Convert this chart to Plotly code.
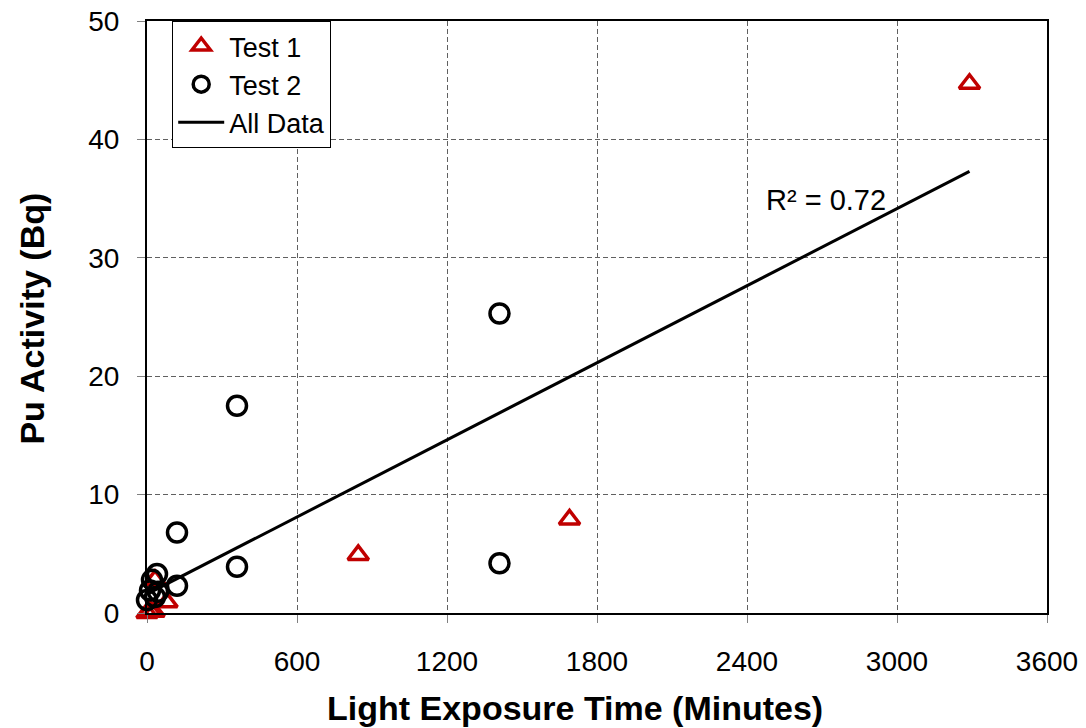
import plotly.graph_objects as go

# Data
test1_x = [0, 12, 28, 32, 80, 845, 1690, 3290]
test1_y = [0.0, 0.2, 0.1, 2.8, 0.9, 4.9, 7.9, 44.7]
test2_x = [0, 12, 20, 32, 40, 44, 120, 120, 360, 360, 1410, 1410]
test2_y = [1.1, 1.9, 2.8, 1.35, 3.3, 1.8, 6.8, 2.3, 17.5, 3.9, 25.3, 4.2]
trend_x = [0, 3290]
trend_y = [1.6, 37.3]
x_ticks = [0, 600, 1200, 1800, 2400, 3000, 3600]
y_ticks = [0, 10, 20, 30, 40, 50]
r2_label = "R² = 0.72"

FONT = "Liberation Sans, Arial, sans-serif"
RED = "#C00000"
GRID = "#606060"

fig = go.Figure()
fig.add_trace(go.Scatter(
    x=test1_x, y=test1_y, mode="markers", name="Test 1",
    marker=dict(symbol="triangle-up-open", size=18, color=RED,
                line=dict(color=RED, width=3.5)),
    cliponaxis=False,
))
fig.add_trace(go.Scatter(
    x=test2_x, y=test2_y, mode="markers", name="Test 2",
    marker=dict(symbol="circle-open", size=19, color="black",
                line=dict(color="black", width=3.5)),
    cliponaxis=False,
))
fig.add_trace(go.Scatter(
    x=trend_x, y=trend_y, mode="lines", name="All Data",
    line=dict(color="black", width=3),
))

fig.add_annotation(x=3290, y=34.9, xref="x", yref="y", text=r2_label,
                   showarrow=False, xanchor="right", yanchor="middle",
                   xshift=-82, font=dict(family=FONT, size=29, color="black"))

fig.add_annotation(x=0.4756, y=-0.161, xref="paper", yref="paper",
                   text="<b>Light Exposure Time (Minutes)</b>", showarrow=False,
                   xanchor="center", yanchor="middle",
                   font=dict(family=FONT, size=34, color="black"))
fig.add_annotation(x=-0.128, y=0.497, xref="paper", yref="paper",
                   text="<b>Pu Activity (Bq)</b>", showarrow=False, textangle=-90,
                   xanchor="center", yanchor="middle",
                   font=dict(family=FONT, size=34, color="black"))

fig.update_xaxes(range=[0, 3600], tickvals=x_ticks, ticktext=[str(v) for v in x_ticks],
                 showgrid=True, gridcolor=GRID, griddash="5px,3px", gridwidth=1,
                 showline=True, linecolor="black", linewidth=2, mirror=True,
                 ticks="outside", ticklen=8, tickcolor="#808080",
                 zeroline=False, ticklabelstandoff=14, automargin=False,
                 tickfont=dict(family=FONT, size=28, color="black"))
fig.update_yaxes(range=[0, 50], tickvals=y_ticks,
                 showgrid=True, gridcolor=GRID, griddash="5px,3px", gridwidth=1,
                 showline=True, linecolor="black", linewidth=2, mirror=True,
                 ticks="outside", ticklen=8, tickcolor="#808080",
                 zeroline=False, ticklabelstandoff=12, automargin=False,
                 tickfont=dict(family=FONT, size=28, color="black"))

fig.update_layout(
    width=1086, height=728,
    margin=dict(l=147, r=39, t=21, b=115, autoexpand=False),
    paper_bgcolor="white", plot_bgcolor="white",
    font=dict(family=FONT, size=28, color="black"),
    showlegend=True,
    legend=dict(x=0.028, y=1.0, xanchor="left", yanchor="top",
                bgcolor="white", bordercolor="black", borderwidth=1,
                font=dict(family=FONT, size=27, color="black"),
                itemwidth=46, tracegroupgap=0),
)

fig.write_html("out.html")
